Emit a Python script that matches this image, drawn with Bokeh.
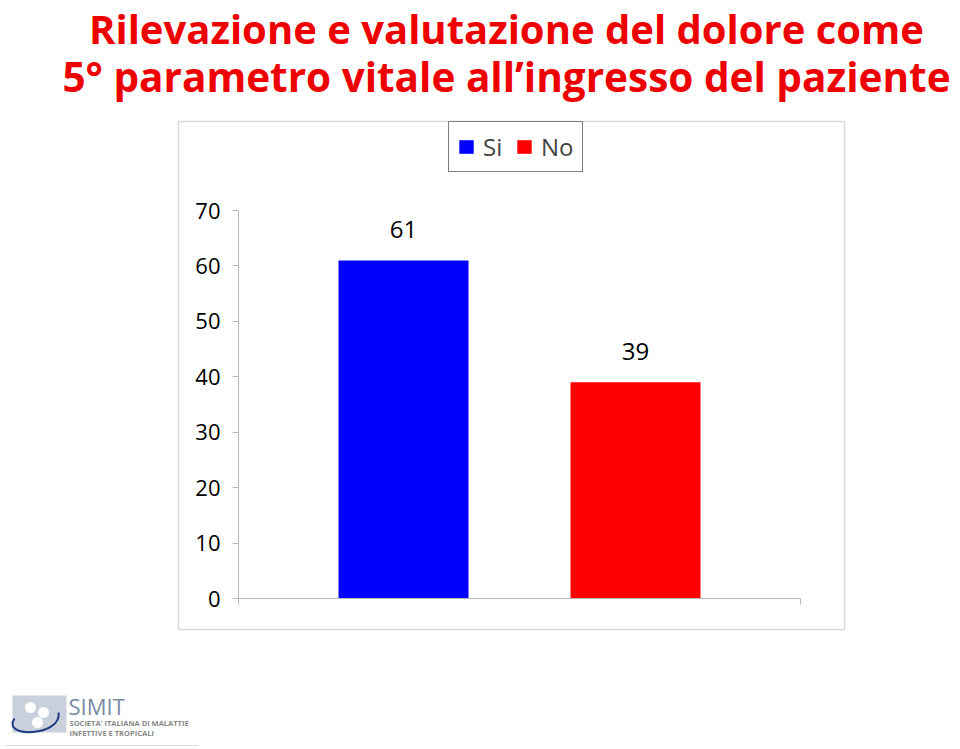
from bokeh.plotting import figure
from bokeh.models import (LinearAxis, FixedTicker, Range1d, ColumnDataSource,
                          Label, CustomJSTickFormatter)
from bokeh.embed import file_html
from bokeh.resources import INLINE
from bokeh.core.properties import value

# ---- data ----
categories = ["Si", "No"]
values = [61, 39]
colors = ["#0000ff", "#ff0000"]
y_ticks = [0, 10, 20, 30, 40, 50, 60, 70]
title_lines = ["Rilevazione e valutazione del dolore come",
               "5° parametro vitale all’ingresso del paziente"]

# ---- layout (pixels) ----
W, H = 960, 749
X0_PX, PX_PER_CAT = 403, 232      # centre of first bar, bar spacing
Y0_PX, PX_PER_UNIT = 598, 388 / 70  # pixel row of value 0, pixels per unit

def dx(px):
    return 1 + (px - X0_PX) / PX_PER_CAT

def dy(py):
    return (Y0_PX - py) / PX_PER_UNIT

FONT = "Open Sans"

p = figure(width=W, height=H, output_backend="svg", toolbar_location=None,
           x_range=Range1d(dx(0), dx(W)), y_range=Range1d(dy(H), dy(0)),
           x_axis_location=None, y_axis_location=None, min_border=0)
p.outline_line_color = None
p.xgrid.grid_line_color = None
p.ygrid.grid_line_color = None
p.background_fill_color = "white"
p.border_fill_color = "white"

# chart-area border
p.quad(left=[dx(178)], right=[dx(844)], top=[dy(121)], bottom=[dy(629)],
       fill_color=None, line_color="#d9d9d9", line_width=1.5)

# axes
yaxis = LinearAxis(fixed_location=dx(238), bounds=(0, 70),
                   ticker=FixedTicker(ticks=y_ticks))
yaxis.axis_line_color = "#b8b8b8"
yaxis.major_tick_line_color = "#b8b8b8"
yaxis.major_tick_out = 6
yaxis.major_tick_in = 0
yaxis.minor_tick_line_color = None
yaxis.major_label_text_font = FONT
yaxis.major_label_text_font_size = "22px"
yaxis.major_label_text_color = "black"
yaxis.major_label_standoff = 12
p.add_layout(yaxis, "left")

xaxis = LinearAxis(fixed_location=0, bounds=(dx(238), dx(800)),
                   ticker=FixedTicker(ticks=[dx(238), dx(800)]),
                   formatter=CustomJSTickFormatter(code="return ''"))
xaxis.axis_line_color = "#b8b8b8"
xaxis.major_tick_line_color = "#b8b8b8"
xaxis.major_tick_out = 6
xaxis.major_tick_in = 0
xaxis.minor_tick_line_color = None
p.add_layout(xaxis, "below")

# bars
src = ColumnDataSource(dict(x=list(range(1, len(categories) + 1)), top=values,
                            cat=categories, color=colors,
                            label=[str(v) for v in values]))
p.vbar(x="x", top="top", bottom=0, width=130 / PX_PER_CAT, color="color",
       line_color=None, legend_field="cat", source=src)
p.text(x="x", y="top", text="label", source=src, y_offset=-31,
       text_align="center", text_baseline="middle",
       text_font=value(FONT), text_font_size="24px", text_color="black")

# legend
lg = p.legend[0]
lg.orientation = "horizontal"
lg.location = (448, 577)
lg.border_line_color = "black"
lg.border_line_width = 1.5
lg.background_fill_color = "white"
lg.label_text_font = FONT
lg.label_text_font_size = "24px"
lg.glyph_width = 18
lg.glyph_height = 17
lg.spacing = 12
lg.padding = 8
lg.margin = 0
lg.label_standoff = 8

# title
for i, (t, fs) in enumerate(zip(title_lines, ["40px", "40.5px"])):
    p.add_layout(Label(x=dx(506), y=dy(28 + 48 * i), text=t,
                       text_align="center", text_baseline="middle",
                       text_color="#ee0000", text_font=FONT,
                       text_font_style="bold", text_font_size=fs))

# logo (SIMIT)
p.quad(left=[dx(12)], right=[dx(66)], top=[dy(695)], bottom=[dy(732)],
       fill_color="#c9d0db", line_color=None)
p.circle(x=[dx(30), dx(43), dx(37)], y=[dy(707), dy(712), dy(722)],
         radius=5.5 / PX_PER_CAT, fill_color="white", line_color=None)
p.bezier(x0=[dx(14)], y0=[dy(718)], x1=[dx(58)], y1=[dy(712)],
         cx0=[dx(0)], cy0=[dy(738)], cx1=[dx(62)], cy1=[dy(736)],
         line_color="#1f3a80", line_width=2)
p.add_layout(Label(x=dx(68), y=dy(705), text="SIMIT", text_baseline="middle",
                   text_color="#7a8aa3", text_font=FONT, text_font_size="22px"))
p.add_layout(Label(x=dx(69), y=dy(722), text="SOCIETA' ITALIANA DI MALATTIE",
                   text_baseline="middle", text_color="#8a8a8a",
                   text_font=FONT, text_font_size="7.5px", text_font_style="bold"))
p.add_layout(Label(x=dx(69), y=dy(732), text="INFETTIVE E TROPICALI",
                   text_baseline="middle", text_color="#8a8a8a",
                   text_font=FONT, text_font_size="7.5px", text_font_style="bold"))
p.segment(x0=[dx(5)], y0=[dy(745)], x1=[dx(198)], y1=[dy(745)],
          line_color="#dddddd", line_width=1)

open("out.html", "w").write(file_html(p, INLINE))
